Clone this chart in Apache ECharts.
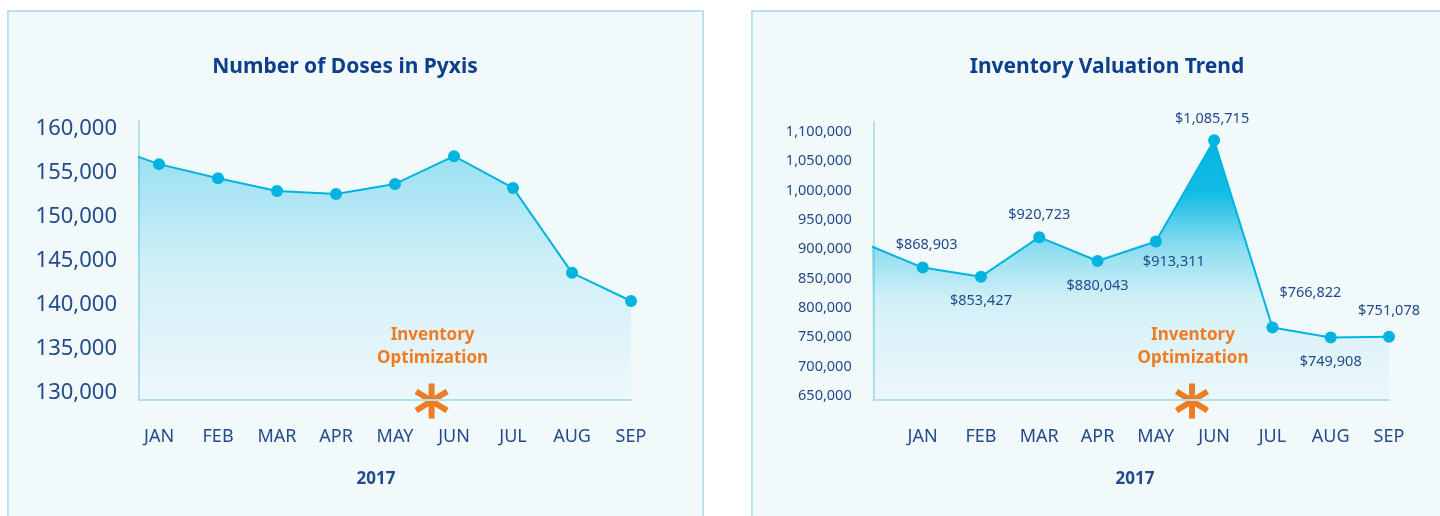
<!DOCTYPE html>
<html><head><meta charset="utf-8">
<script src="https://cdn.jsdelivr.net/npm/echarts@6/dist/echarts.min.js"></script>
<style>
html,body{margin:0;padding:0;background:#fff;width:1440px;height:516px;overflow:hidden;}
.panel{position:absolute;top:10px;height:540px;box-sizing:border-box;border:2px solid #b9e2ec;background:#f1f9fb;}
#p1{left:7px;width:697px;}
#p2{left:751px;width:720px;}
#chart{position:absolute;left:0;top:0;width:1440px;height:516px;}
</style></head><body>
<div class="panel" id="p1"></div><div class="panel" id="p2"></div>
<div id="chart"></div>
<script>
// ---- data ----
const months = ['JAN','FEB','MAR','APR','MAY','JUN','JUL','AUG','SEP'];
const yearLabel = '2017';
const dosesTitle = 'Number of Doses in Pyxis';
const valuationTitle = 'Inventory Valuation Trend';
const doses = [156000, 154400, 152950, 152600, 153750, 156900, 153300, 143650, 140450];
const dosesPrevDec = 158350;               // Dec 2016 (line enters from the left edge)
const valuation = [868903, 853427, 920723, 880043, 913311, 1085715, 766822, 749908, 751078];
const valuationPrevDec = 910000;           // Dec 2016 (line enters from the left edge)
const dosesTicks = [130000, 135000, 140000, 145000, 150000, 155000, 160000];
const valuationTicks = [650000, 700000, 750000, 800000, 850000, 900000, 950000, 1000000, 1050000, 1100000];
const annotationLines = ['Inventory', 'Optimization'];
const annotationAt = 4.62;                 // between MAY and JUN

// ---- styles ----
const FONT = 'Noto Sans';
const NAVY = '#234b8c';
const TITLE = '#0d3f8c';
const CYAN = '#00b4e0';
const ORANGE = '#f07c22';
const AXIS = '#b3e1ec';
const labelPlacement = ['top','bottom','top','bottom','bottom','top','top','bottom','top'];
const labelShift = [[4,2],[0,0],[0,2],[0,0],[18,-4],[-2,3],[38,-10],[0,0],[0,-1]];

const fmt = v => v.toLocaleString('en-US');

const dosesRange = {min: 129200, max: 160900};
const valRange = {min: 643200, max: 1117000};

function xAxisFor(gridIndex, min) {
  return {
    type: 'value', gridIndex, min, max: 8,
    axisLine: {show: true, onZero: false, lineStyle: {color: AXIS, width: 2}},
    axisTick: {show: false}, splitLine: {show: false},
    axisLabel: {
      customValues: months.map((m, i) => i),
      formatter: v => months[Math.round(v)] || '',
      color: NAVY, fontFamily: FONT, fontSize: 18, margin: 28
    }
  };
}

const chart = echarts.init(document.getElementById('chart'), null, {renderer: 'canvas'});

const dosesData = [[-1, dosesPrevDec]].concat(doses.map((v, i) => [i, v]));
const valData = [{value: [-1, valuationPrevDec], symbol: 'none', label: {show: false}}]
  .concat(valuation.map((v, i) => ({
    value: [i, v],
    label: {position: labelPlacement[i], offset: labelShift[i]}
  })));

chart.setOption({
  animation: false,
  title: [
    {text: dosesTitle, left: 345, top: 57, padding: 0, textAlign: 'center',
     textStyle: {color: TITLE, fontFamily: FONT, fontWeight: 'bold', fontSize: 21}},
    {text: valuationTitle, left: 1107, top: 57, padding: 0, textAlign: 'center',
     textStyle: {color: TITLE, fontFamily: FONT, fontWeight: 'bold', fontSize: 21}}
  ],
  grid: [
    {left: 139, top: 121, width: 492, height: 279},
    {left: 873.7, top: 122, width: 515.3, height: 278}
  ],
  xAxis: [xAxisFor(0, -0.34), xAxisFor(1, -0.84)],
  yAxis: [
    {type: 'value', gridIndex: 0, min: dosesRange.min, max: dosesRange.max,
     axisLine: {show: true, onZero: false, lineStyle: {color: AXIS, width: 2}},
     axisTick: {show: false}, splitLine: {show: false},
     axisLabel: {customValues: dosesTicks, formatter: fmt, color: NAVY, fontFamily: FONT, fontSize: 22, margin: 22}},
    {type: 'value', gridIndex: 1, min: valRange.min, max: valRange.max,
     axisLine: {show: true, onZero: false, lineStyle: {color: AXIS, width: 2}},
     axisTick: {show: false}, splitLine: {show: false},
     axisLabel: {customValues: valuationTicks, formatter: fmt, color: NAVY, fontFamily: FONT, fontSize: 14.5, margin: 22}}
  ],
  series: [
    {type: 'line', xAxisIndex: 0, yAxisIndex: 0, data: dosesData, clip: true,
     symbol: 'circle', symbolSize: 12, showAllSymbol: true,
     lineStyle: {color: CYAN, width: 2}, itemStyle: {color: CYAN},
     areaStyle: {origin: 'start', color: {type: 'linear', x: 0, y: 0, x2: 0, y2: 1, colorStops: [
       {offset: 0, color: 'rgba(0,180,226,0.55)'},
       {offset: 0.5, color: 'rgba(0,180,226,0.18)'},
       {offset: 1, color: 'rgba(0,180,226,0.02)'}]}}},
    {type: 'line', xAxisIndex: 1, yAxisIndex: 1, data: valData, clip: true,
     symbol: 'circle', symbolSize: 12, showAllSymbol: true,
     lineStyle: {color: CYAN, width: 2}, itemStyle: {color: CYAN},
     label: {show: true, distance: 11, formatter: p => '$' + fmt(p.value[1]),
             color: NAVY, fontFamily: FONT, fontSize: 14.5},
     areaStyle: {origin: 'start', opacity: 1, color: {type: 'linear', x: 0, y: 0, x2: 0, y2: 1, colorStops: [
       {offset: 0, color: 'rgba(0,182,226,1)'},
       {offset: 0.2, color: 'rgba(0,182,226,0.92)'},
       {offset: 0.42, color: 'rgba(0,182,226,0.4)'},
       {offset: 0.62, color: 'rgba(0,182,226,0.12)'},
       {offset: 1, color: 'rgba(0,182,226,0.02)'}]}}}
  ]
});

function annotation(gridIndex, yMin) {
  const p = chart.convertToPixel({gridIndex}, [annotationAt, yMin]);
  const x = p[0], y = p[1];
  return [
    {type: 'text', x: x + 1, y: y - 53.5, z: 10,
     style: {text: annotationLines.join('\n'), align: 'center', verticalAlign: 'middle',
             lineHeight: 23, fill: ORANGE, font: 'bold 17px "' + FONT + '"'}},
    {type: 'group', x, y: y + 1, z: 10, children: [
      {type: 'line', shape: {x1: 0, y1: -17.5, x2: 0, y2: 17.5}, style: {stroke: ORANGE, lineWidth: 6}},
      {type: 'line', shape: {x1: -15.5, y1: -9.5, x2: 15.5, y2: 9.5}, style: {stroke: ORANGE, lineWidth: 6}},
      {type: 'line', shape: {x1: -15.5, y1: 9.5, x2: 15.5, y2: -9.5}, style: {stroke: ORANGE, lineWidth: 6}}
    ]}
  ];
}

chart.setOption({
  graphic: {elements: [].concat(
    annotation(0, dosesRange.min),
    annotation(1, valRange.min),
    [
      {type: 'text', x: 376, y: 479, style: {text: yearLabel, align: 'center', verticalAlign: 'middle',
        fill: NAVY, font: 'bold 17px "' + FONT + '"'}},
      {type: 'text', x: 1135, y: 479, style: {text: yearLabel, align: 'center', verticalAlign: 'middle',
        fill: NAVY, font: 'bold 17px "' + FONT + '"'}}
    ]
  )}
});
</script>
</body></html>
